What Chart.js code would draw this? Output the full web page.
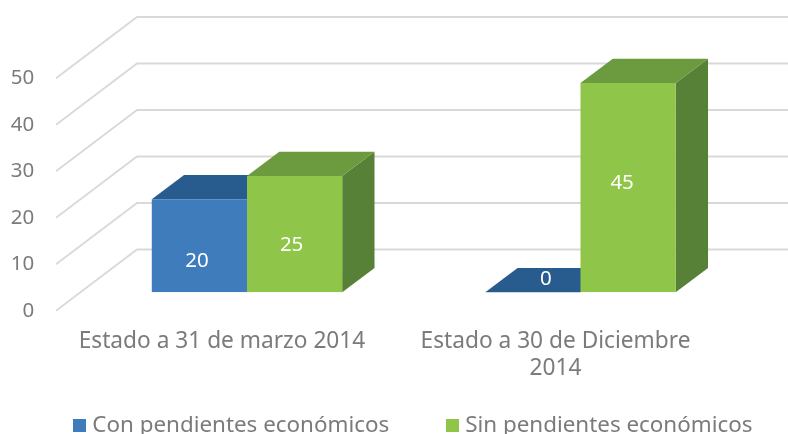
<!DOCTYPE html>
<html>
<head>
<meta charset="utf-8">
<style>html,body{margin:0;padding:0;background:#fff}canvas{display:block}</style>
<script src="https://cdn.jsdelivr.net/npm/chart.js@4"></script>
</head>
<body>
<canvas id="c" width="788" height="434"></canvas>
<script>
const categories = ['Estado a 31 de marzo 2014', ['Estado a 30 de Diciembre', '2014']];
const seriesNames = ['Con pendientes económicos', 'Sin pendientes económicos'];
const conPendientes = [20, 0];
const sinPendientes = [25, 45];

const FONT = 'Noto Sans';
const FS_TEXT = 22.7;
const FS_LEGEND = 22.4;
const FS_NUM = 20.5;
const GREY = '#7b7b7b';
const DEPTH = {x: 32.3, y: -24.3};
const FACES = [
  {front: '#3f7cbb', top: '#295c8e', side: '#295c8e'},
  {front: '#8fc649', top: '#6b9b3e', side: '#568137'}
];
// [dataset][index] shift of the value label from the front-face centre
const LABEL_SHIFT = [
  [{x: -2.5, y: 15}, {x: 13, y: -13}],
  [{x: -3, y: 11}, {x: -6, y: -5}]
];
const LEGEND_GAP = 61;

function poly(ctx, pts, fill) {
  ctx.beginPath();
  pts.forEach((p, i) => i ? ctx.lineTo(p[0], p[1]) : ctx.moveTo(p[0], p[1]));
  ctx.closePath();
  ctx.fillStyle = fill;
  ctx.fill();
}

function swatch(color) {
  const cv = document.createElement('canvas');
  cv.width = 13; cv.height = 13;
  const g = cv.getContext('2d');
  g.fillStyle = color;
  g.fillRect(0, 0, 13, 13);
  return cv;
}

const box3d = {
  id: 'box3d',
  beforeLayout(chart) {
    const lg = chart.legend;
    if (lg.patched) return;
    lg.patched = true;
    const fit = lg.fit;
    // one row, reserving no layout height: the legend overlaps the foot of the canvas
    lg.fit = function () { this.maxWidth = 2000; fit.call(this); this.height = 0; };
  },
  afterLayout(chart) {
    const lg = chart.legend;
    lg.left = 77.3 - LEGEND_GAP;
    lg.right = 2000;
    lg.top = 414 - LEGEND_GAP;
    lg.bottom = 434;
  },
  beforeDatasetsDraw(chart) {
    const {ctx, chartArea: a, scales: {y}} = chart;
    ctx.save();
    ctx.strokeStyle = '#d9d9d9';
    ctx.lineWidth = 1.8;
    y.ticks.forEach((t, i) => {
      const py = y.getPixelForTick(i);
      ctx.beginPath();
      ctx.moveTo(a.left - 24.25, py + 18.4);
      ctx.lineTo(a.left + 56.75, py - 42.8);
      ctx.lineTo(788, py - 42.8);
      ctx.stroke();
    });
    chart.data.datasets.forEach((ds, di) => {
      chart.getDatasetMeta(di).data.forEach(bar => {
        const {x, y: top, base, width} = bar.getProps(['x', 'y', 'base', 'width'], true);
        const l = x - width / 2, r = x + width / 2;
        poly(ctx, [[r, top], [r + DEPTH.x, top + DEPTH.y], [r + DEPTH.x, base + DEPTH.y], [r, base]], FACES[di].side);
        poly(ctx, [[l, top], [l + DEPTH.x, top + DEPTH.y], [r + DEPTH.x, top + DEPTH.y], [r, top]], FACES[di].top);
      });
    });
    ctx.restore();
  },
  afterDatasetsDraw(chart) {
    const {ctx} = chart;
    ctx.save();
    ctx.font = FS_NUM + 'px "' + FONT + '"';
    ctx.fillStyle = '#fff';
    ctx.textAlign = 'center';
    ctx.textBaseline = 'middle';
    chart.data.datasets.forEach((ds, di) => {
      chart.getDatasetMeta(di).data.forEach((bar, i) => {
        const {x, y: top, base} = bar.getProps(['x', 'y', 'base'], true);
        const s = LABEL_SHIFT[di][i];
        ctx.fillText(String(ds.data[i]), x + s.x, (top + base) / 2 + s.y);
      });
    });
    ctx.restore();
  }
};

new Chart(document.getElementById('c'), {
  type: 'bar',
  data: {
    labels: categories,
    datasets: [
      {label: seriesNames[0], data: conPendientes, backgroundColor: FACES[0].front, categoryPercentage: 0.571, barPercentage: 1},
      {label: seriesNames[1], data: sinPendientes, backgroundColor: FACES[1].front, categoryPercentage: 0.571, barPercentage: 1}
    ]
  },
  plugins: [box3d],
  options: {
    responsive: false,
    animation: false,
    layout: {padding: {top: 59.8, right: 0, left: 0, bottom: 0}},
    plugins: {
      tooltip: {enabled: false},
      legend: {
        position: 'bottom',
        align: 'start',
        labels: {
          usePointStyle: true, pointStyleWidth: 3.8, boxHeight: 13,
          padding: LEGEND_GAP, color: GREY, font: {family: FONT, size: FS_LEGEND},
          generateLabels: c => Chart.defaults.plugins.legend.labels.generateLabels(c)
            .map((it, i) => ({...it, pointStyle: swatch(FACES[i].front)}))
        }
      }
    },
    scales: {
      x: {
        grid: {display: false, drawTicks: false},
        border: {display: false},
        afterFit(s) { s.height = 141.7; },
        ticks: {
          color: GREY, font: {family: FONT, size: FS_TEXT, lineHeight: 1.18},
          padding: 36, labelOffset: -25, maxRotation: 0, minRotation: 0
        }
      },
      y: {
        min: 0, max: 50,
        grid: {display: false, drawTicks: false},
        border: {display: false},
        afterFit(s) { s.width = 80.25; },
        ticks: {
          stepSize: 10, color: GREY, font: {family: FONT, size: FS_NUM},
          padding: 46, labelOffset: 18.4
        }
      },
      rightGutter: {
        axis: 'y', position: 'right', display: true,
        grid: {display: false, drawTicks: false},
        border: {display: false},
        ticks: {display: false},
        afterFit(s) { s.width = 40.75; }
      }
    }
  }
});
</script>
</body>
</html>
